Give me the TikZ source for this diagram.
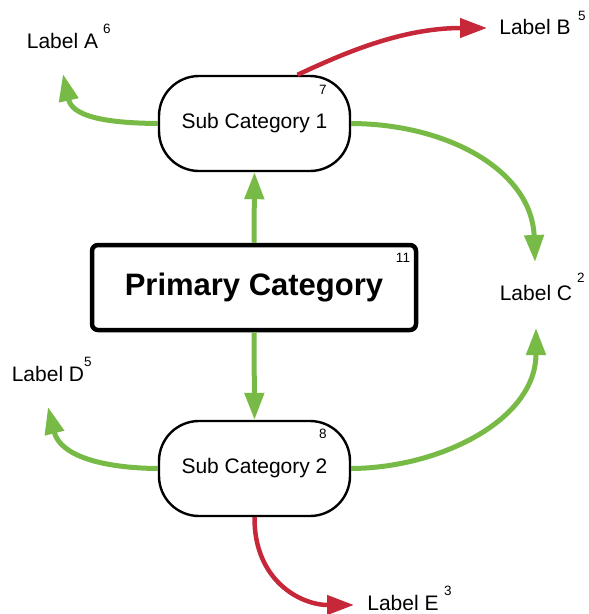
\documentclass[tikz,border=0pt]{standalone}
\usepackage{fontspec}
\setmainfont{Liberation Sans}
\usetikzlibrary{arrows.meta,calc}
\definecolor{flowgreen}{RGB}{120,186,70}
\definecolor{flowred}{RGB}{198,40,58}
\begin{document}
\begin{tikzpicture}[x=1pt,y=-1pt,
  subbox/.style={draw=black, line width=2.4pt, rounded corners=40pt,
    minimum width=191pt, minimum height=95pt, inner sep=0pt, fill=white,
    font=\fontsize{21}{24}\selectfont},
  primbox/.style={draw=black, line width=4.5pt, rounded corners=6pt,
    minimum width=324pt, minimum height=85pt, inner sep=0pt, fill=white,
    font=\fontsize{31}{36}\selectfont\bfseries},
  lbl/.style={inner sep=0pt, font=\fontsize{21}{24}\selectfont},
  countlbl/.style={inner sep=0pt, font=\fontsize{13.5}{15}\selectfont},
  greenarrow/.style={draw=flowgreen, line width=5pt,
    -{Triangle[length=27pt,width=19pt]}},
  redarrow/.style={draw=flowred, line width=4.5pt,
    -{Triangle[length=27pt,width=19pt]}}]
\useasboundingbox (0,0) rectangle (589,614);

% boxes
\node[primbox] (prim) at (254,287.5) {Primary Category};
\node[subbox] (s1) at (254.5,123.5) {Sub Category 1};
\node[subbox] (s2) at (254.5,468.5) {Sub Category 2};

% counts in the box corners
\node[countlbl] (n11) at (403,257.5) {11};
\node[countlbl] (n7) at (323,90) {7};
\node[countlbl] (n8) at (323,434) {8};

% outer labels with their counts
\node[lbl] (la) at (62.5,41) {Label A};
\node[countlbl] (ca) at (107,29) {6};
\node[lbl] (lb) at (535,26.5) {Label B};
\node[countlbl] (cb) at (582,16) {5};
\node[lbl] (lc) at (536,293) {Label C};
\node[countlbl] (cc) at (581,278) {2};
\node[lbl] (ld) at (48,374) {Label D};
\node[countlbl] (cd) at (88,362) {5};
\node[lbl] (le) at (403,602.5) {Label E};
\node[countlbl] (ce) at (448,590.5) {3};

% arrow tips that stop short of the labels
\coordinate (tipA) at (63,74);
\coordinate (tipB) at (487,28);
\coordinate (tipC1) at (535,262);
\coordinate (tipC2) at (536,328);
\coordinate (tipD) at (48,407);
\coordinate (tipE) at (354,605);

% connectors
\draw[greenarrow] (prim.north) -- (s1.south);
\draw[greenarrow] (prim.south) -- (s2.north);
\draw[greenarrow] (s1.west) .. controls (100,123) and (72,115) .. (tipA);
\draw[redarrow] ($(s1.north)+(43,0)$) .. controls (340,55) and (400,28) .. (tipB);
\draw[greenarrow] (s1.east) .. controls (450,124) and (532,172) .. (tipC1);
\draw[greenarrow] (s2.east) .. controls (440,468) and (536,420) .. (tipC2);
\draw[greenarrow] (s2.west) .. controls (100,468) and (60,455) .. (tipD);
\draw[redarrow] (s2.south) .. controls (254,580) and (300,605) .. (tipE);
\end{tikzpicture}
\end{document}
